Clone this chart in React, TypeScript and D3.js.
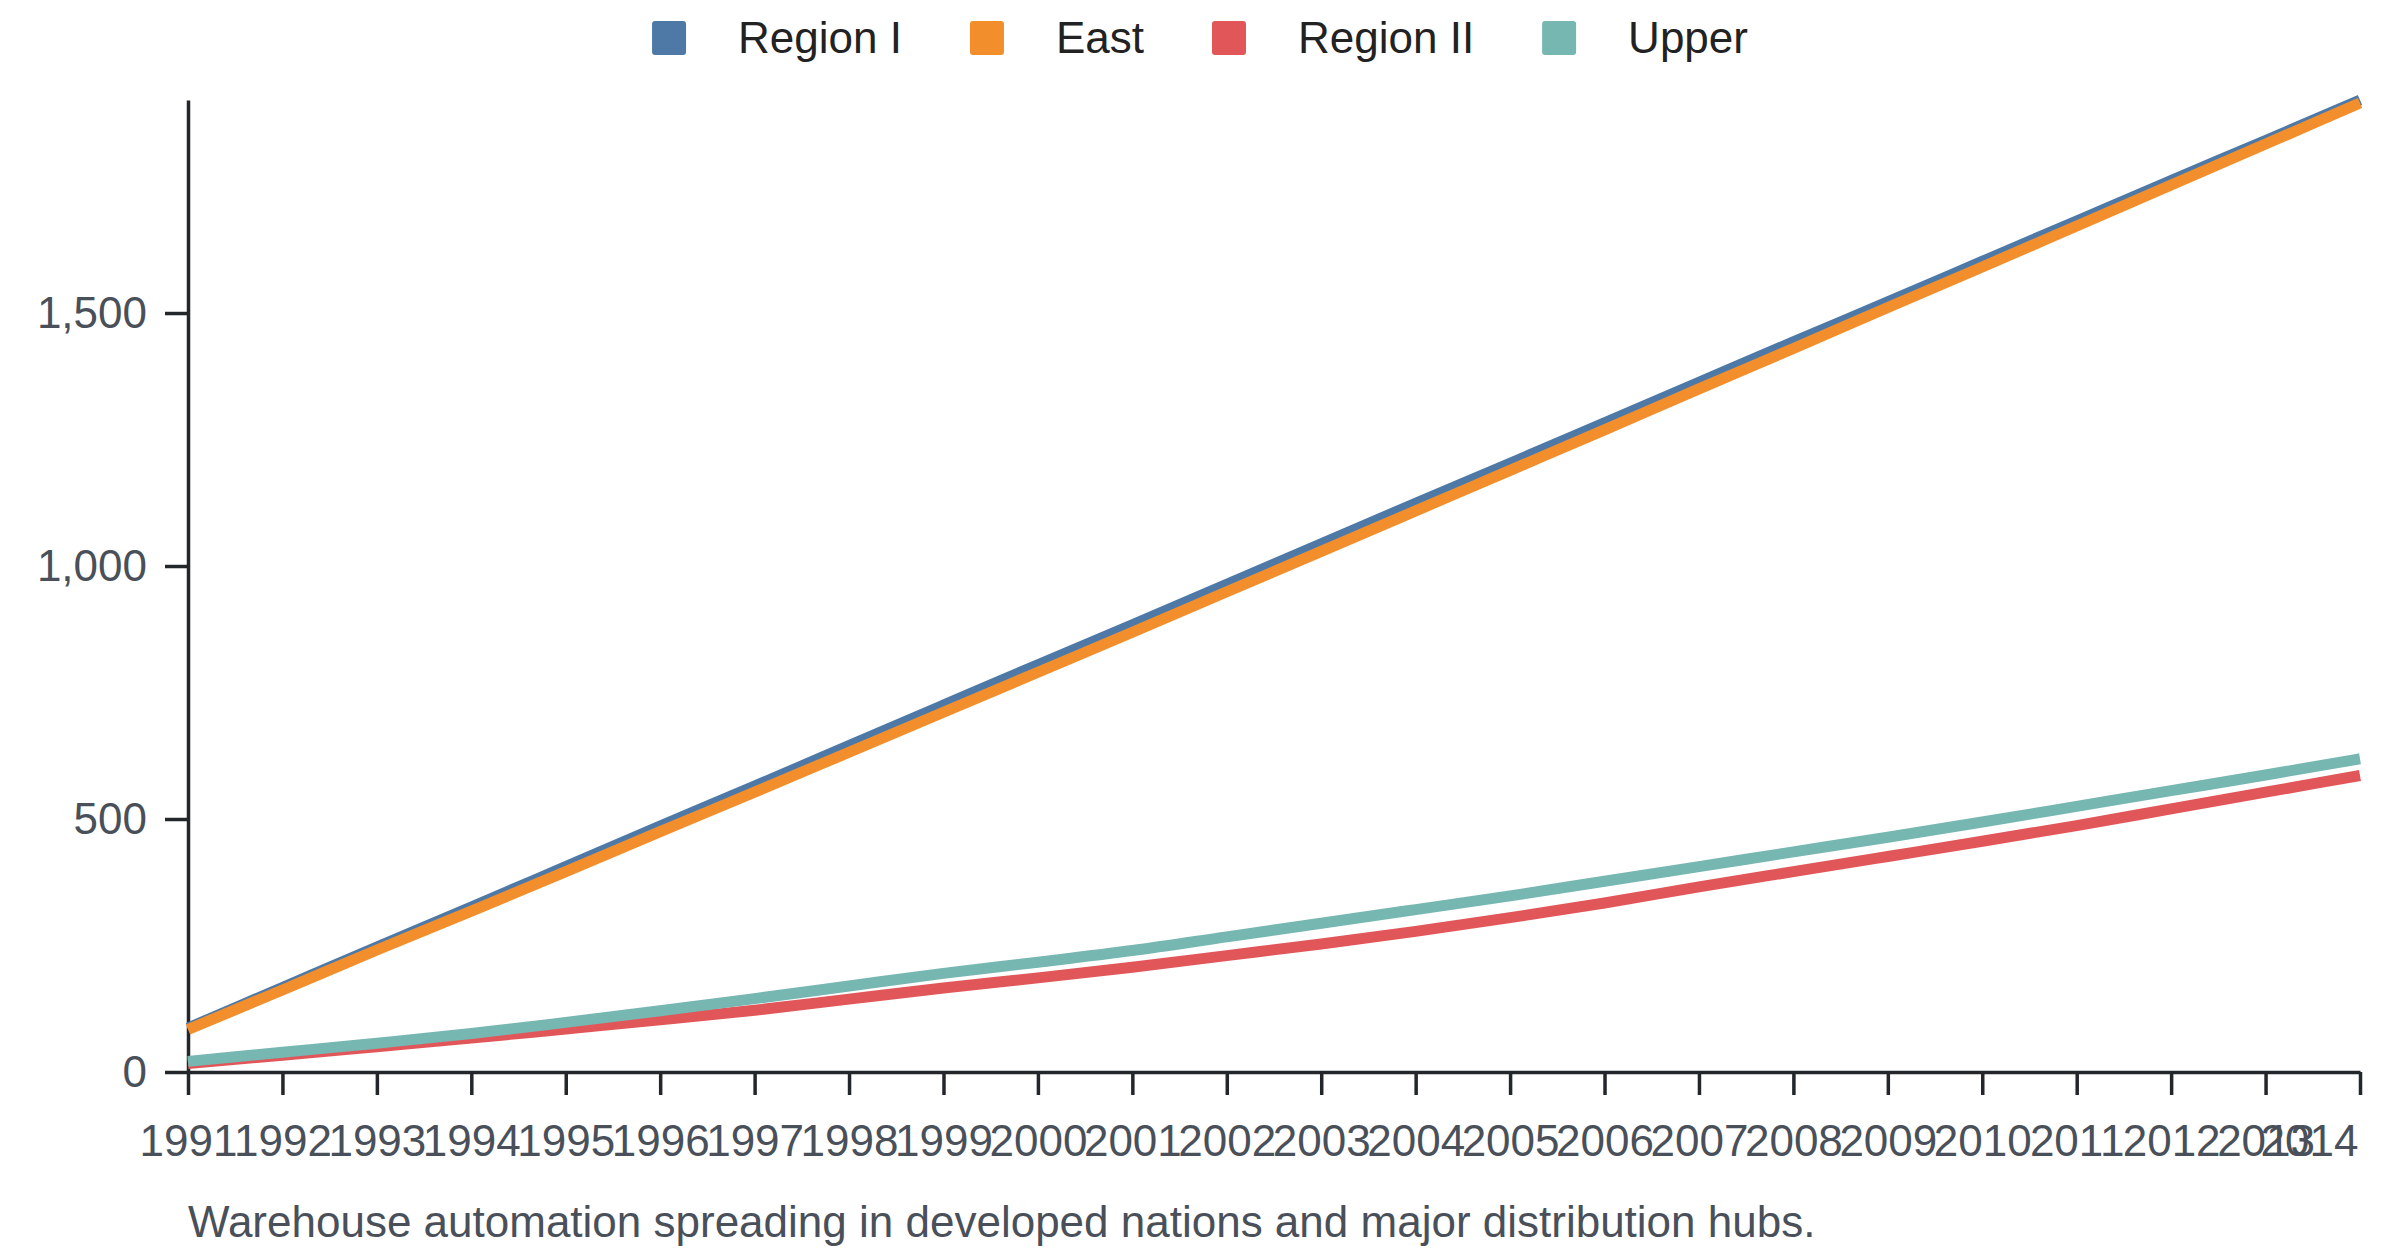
import React, { useRef, useEffect } from 'react';
import * as d3 from 'd3';

const years = [1991, 1992, 1993, 1994, 1995, 1996, 1997, 1998, 1999, 2000, 2001, 2002, 2003, 2004, 2005, 2006, 2007, 2008, 2009, 2010, 2011, 2012, 2013, 2014];
const regionI = [87, 167, 247, 326, 406, 486, 565, 645, 725, 805, 884, 964, 1044, 1124, 1203, 1283, 1363, 1443, 1522, 1602, 1682, 1762, 1841, 1921];
const east = [84, 162, 241, 318, 396, 475, 553, 632, 711, 790, 869, 949, 1029, 1109, 1189, 1269, 1350, 1430, 1511, 1591, 1672, 1753, 1834, 1915];
const regionII = [17, 33, 50, 67, 85, 103, 122, 144, 166, 186, 207, 230, 253, 278, 305, 334, 366, 396, 426, 456, 487, 520, 553, 586];
const upper = [21, 39, 57, 76, 98, 121, 145, 170, 195, 217, 240, 267, 294, 321, 348, 377, 406, 435, 464, 494, 525, 556, 587, 619];

const seriesNames = ['Region I', 'East', 'Region II', 'Upper'];
const seriesValues = [regionI, east, regionII, upper];
const colors = ['#4e79a7', '#f28e2b', '#e15759', '#76b7b2'];
const caption = 'Warehouse automation spreading in developed nations and major distribution hubs.';

const App: React.FC = () => {
    const svgRef = useRef<SVGSVGElement | null>(null);
    useEffect(() => {
        if (!svgRef.current) return;
        const svg = d3.select(svgRef.current);
        const [w, h] = [2400, 1256];
        const margin = { top: 100, right: 40, bottom: 184, left: 188 };
        svg.selectAll('*').remove();
        const font = '"Liberation Sans", Arial, sans-serif';

        const x = d3.scaleLinear().domain([years[0], years[years.length - 1]]).range([margin.left, w - margin.right]);
        const maxV = d3.max(seriesValues.flat()) as number;
        const y = d3.scaleLinear().domain([0, maxV]).range([h - margin.bottom, margin.top]);

        // axes
        const xAxis = d3.axisBottom(x).tickValues(years).tickFormat(d3.format('d')).tickSize(23).tickSizeOuter(0).tickPadding(30);
        const gx = svg.append('g').attr('transform', `translate(0,${h - margin.bottom})`).call(xAxis);
        gx.selectAll('text').filter((d: any) => d === years[years.length - 1]).attr('text-anchor', 'end').attr('dx', '-2');

        const yAxis = d3.axisLeft(y).ticks(5).tickFormat(d3.format(',')).tickSize(23).tickSizeOuter(0).tickPadding(18);
        const gy = svg.append('g').attr('transform', `translate(${margin.left},0)`).call(yAxis);

        [gx, gy].forEach(g => {
            g.select('.domain').attr('stroke', '#23262b').attr('stroke-width', 3.5);
            g.selectAll('.tick line').attr('stroke', '#23262b').attr('stroke-width', 3.5);
            g.selectAll('text').attr('fill', '#4a5059').attr('font-size', 44).attr('font-family', font);
        });

        // lines
        const line = d3.line<number>().x((_, i) => x(years[i])).y(d => y(d)).curve(d3.curveMonotoneX);
        seriesValues.forEach((vals, i) => {
            svg.append('path').datum(vals).attr('fill', 'none').attr('stroke', colors[i]).attr('stroke-width', 11).attr('d', line);
        });

        // legend
        const legend = svg.append('g');
        let cx = 0;
        seriesNames.forEach((name, i) => {
            const item = legend.append('g').attr('transform', `translate(${cx},0)`);
            item.append('rect').attr('x', 0).attr('y', 21).attr('width', 34).attr('height', 34).attr('rx', 3).attr('fill', colors[i]);
            const t = item.append('text').attr('x', 86).attr('y', 53).attr('font-size', 44).attr('font-family', font).attr('fill', '#222').text(name);
            const tw = (t.node() as SVGTextElement).getComputedTextLength();
            cx += 86 + tw + (i < seriesNames.length - 1 ? 68 : 0);
        });
        legend.attr('transform', `translate(${(w - cx) / 2},0)`);

        // caption
        svg.append('text').attr('x', margin.left).attr('y', 1237).attr('font-size', 44).attr('font-family', font).attr('fill', '#4a5059').text(caption);
    }, []);
    return (
        <div style={{ position: 'absolute', left: 0, top: 0 }}>
            <svg ref={svgRef} width={2400} height={1256} viewBox="0 0 2400 1256" style={{ display: 'block', background: '#fff' }} />
        </div>
    );
};
export default App;
